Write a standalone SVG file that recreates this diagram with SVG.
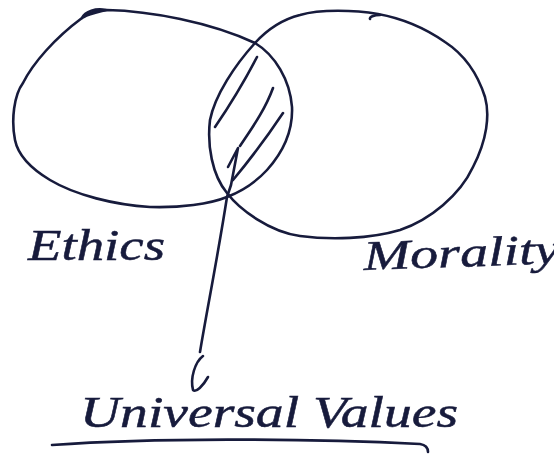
<svg xmlns="http://www.w3.org/2000/svg" width="554" height="460" viewBox="0 0 554 460">
<style>
.ink{fill:none;stroke:#171b3c;stroke-width:2.6;stroke-linecap:round;stroke-linejoin:round}
.lbl{font-family:"Liberation Serif","DejaVu Serif",serif;font-style:italic;fill:#171b3c;stroke:#171b3c;stroke-width:0.5}
</style>
<rect width="554" height="460" fill="#ffffff"/>
<g id="ethics">
<path class="ink" d="M107,10 C150,11 210,22 255,43 C275,55 290,80 292,107 C293,130 285,150 267,170 C255,183 240,192 227,197 C210,204 180,208 150,207 C115,205 75,195 50,180 C30,168 18,155 15,140 C11,120 14,95 23,83 C33,63 55,38 82,18 C88,13 97,10 107,10 Z"/>
<path class="ink" d="M82,18 C85,11 96,8 106,10 C98,12 88,14 84,17"/>
<text class="lbl" x="28" y="260" font-size="44" textLength="137" lengthAdjust="spacingAndGlyphs">Ethics</text>
</g>
<g id="morality">
<path class="ink" d="M378,14 C355,10 320,9 300,15 C280,20 265,32 255,43 C235,65 215,95 210,120 C207,145 212,175 227,193 C240,210 270,232 300,236 C330,240 370,239 400,230 C430,220 460,195 473,167 C487,140 490,115 485,97 C478,75 465,55 445,42 C425,28 400,18 378,14"/>
<path class="ink" d="M380,15 C374,15 369,17 370,19"/>
<text class="lbl" x="364" y="270" font-size="42" textLength="196" lengthAdjust="spacingAndGlyphs" transform="rotate(-2 364 270)">Morality</text>
</g>
<g id="hatch">
<path class="ink" d="M257,57 C245,80 230,105 215,127"/>
<path class="ink" d="M273,88 C265,110 252,128 240,146"/>
<path class="ink" d="M283,113 C265,140 248,162 233,180"/>
</g>
<g id="universal-values">
<text class="lbl" x="80" y="427" font-size="44" textLength="378" lengthAdjust="spacingAndGlyphs">Universal Values</text>
<path class="ink" d="M52,445 C150,438 300,438 420,444 C426,445 428,448 428,452"/>
</g>
<g id="connectors">
<path class="ink" d="M228,167 L238,148 L231,185 L227,197 C218,255 207,310 200,352"/>
<path class="ink" d="M203,356 C195,362 190,378 193,390 C196,393 203,386 208,377"/>
</g>
</svg>
